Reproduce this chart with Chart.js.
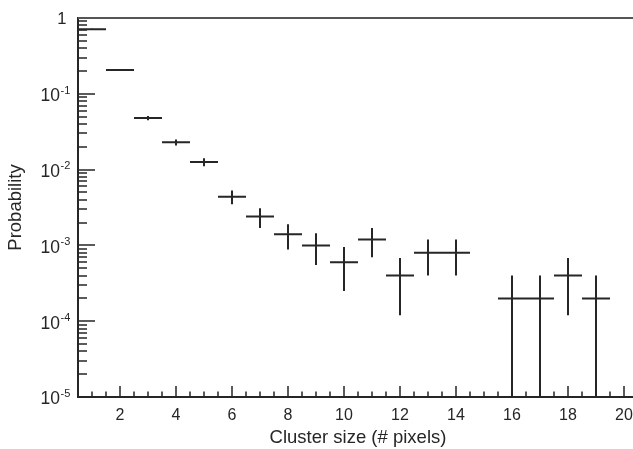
<!DOCTYPE html>
<html>
<head>
<meta charset="utf-8">
<script src="https://cdn.jsdelivr.net/npm/chart.js@4.4.1/dist/chart.umd.min.js"></script>
<style>
  html, body { margin: 0; padding: 0; background: #fff; overflow: hidden; }
  #wrap { width: 640px; height: 449px; }
</style>
</head>
<body>
<div id="wrap"><canvas id="clusterChart"></canvas></div>
<script>
// cluster size histogram (normalised), one bin per pixel count
const binCenters = [1, 2, 3, 4, 5, 6, 7, 8, 9, 10, 11, 12, 13, 14, 15, 16, 17, 18, 19, 20];
const probability = [0.71, 0.206, 0.048, 0.0229, 0.0126, 0.0044, 0.0024, 0.0014, 0.001, 0.0006,
                     0.0012, 0.0004, 0.0008, 0.0008, 0, 0.0002, 0.0002, 0.0004, 0.0002, 0];
const errLow  = [0.698, 0.2, 0.0449, 0.0208, 0.0111, 0.0035, 0.0017, 0.00088, 0.00055, 0.00025,
                 0.0007, 0.00012, 0.0004, 0.0004, 0, 0, 0, 0.00012, 0, 0];
const errHigh = [0.722, 0.212, 0.0511, 0.025, 0.0141, 0.0053, 0.0031, 0.0019, 0.00145, 0.00095,
                 0.0017, 0.00068, 0.0012, 0.0012, 0, 0.0004, 0.0004, 0.00068, 0.0004, 0];
const xTickLabels = [2, 4, 6, 8, 10, 12, 14, 16, 18, 20];
const yDecades = [0, -1, -2, -3, -4, -5];

const X_MIN = 0.5, X_MAX = 20.5;
const Y_MIN = 1e-5, Y_MAX = 1;
const INK = '#262626';
const FONT = "'Liberation Sans', Arial, sans-serif";

// bin contents as horizontal steps, errors as vertical bars (null splits the line)
const binSegments = [];
const errorSegments = [];
binCenters.forEach((x, i) => {
  const v = probability[i];
  if (v <= 0) return;
  binSegments.push({x: x - 0.5, y: v}, {x: x + 0.5, y: v}, {x: x + 0.5, y: null});
  errorSegments.push({x: x, y: Math.max(errLow[i], Y_MIN)}, {x: x, y: errHigh[i]}, {x: x, y: null});
});

// ROOT-like frame: inward ticks, top border, 10^n labels
const rootFrame = {
  id: 'rootFrame',
  afterDraw(chart) {
    const {ctx, chartArea: a, scales: {x, y}} = chart;
    ctx.save();
    ctx.strokeStyle = INK;
    ctx.lineWidth = 1.5;
    ctx.beginPath();
    for (let t = 1; t <= X_MAX; t += 0.5) {
      const px = Math.round(x.getPixelForValue(t));
      const len = t % 2 === 0 ? 11 : 5.5;
      ctx.moveTo(px, a.bottom);
      ctx.lineTo(px, a.bottom - len);
    }
    yDecades.forEach(d => {
      const py = Math.round(y.getPixelForValue(Math.pow(10, d)));
      ctx.moveTo(a.left, py);
      ctx.lineTo(a.left + 17, py);
      if (d === -5) return;
      // minor ticks in the decade below this one
      for (let k = 2; k <= 9; k++) {
        const pm = Math.round(y.getPixelForValue(k * Math.pow(10, d - 1)));
        ctx.moveTo(a.left, pm);
        ctx.lineTo(a.left + 9, pm);
      }
    });
    ctx.stroke();

    ctx.strokeStyle = '#555';
    ctx.lineWidth = 2;
    ctx.beginPath();
    ctx.moveTo(a.left, a.top);
    ctx.lineTo(a.right, a.top);
    ctx.stroke();

    ctx.fillStyle = INK;
    ctx.textBaseline = 'alphabetic';
    yDecades.forEach(d => {
      const py = y.getPixelForValue(Math.pow(10, d));
      if (d === 0) {
        ctx.font = '16.5px ' + FONT;
        ctx.textAlign = 'right';
        ctx.fillText('1', 66.5, py + 6.3);
        return;
      }
      ctx.font = '17.5px ' + FONT;
      ctx.textAlign = 'right';
      ctx.fillText('10', 60, py + 7.4);
      ctx.font = '11px ' + FONT;
      ctx.textAlign = 'left';
      ctx.fillText('-' + (-d), 60.5, py - 0.2);
    });
    ctx.restore();
  }
};

new Chart(document.getElementById('clusterChart'), {
  type: 'scatter',
  data: {
    datasets: [
      {data: binSegments, showLine: true, spanGaps: false, borderColor: INK, borderWidth: 2, pointRadius: 0},
      {data: errorSegments, showLine: true, spanGaps: false, borderColor: INK, borderWidth: 2, pointRadius: 0}
    ]
  },
  options: {
    responsive: true,
    maintainAspectRatio: false,
    animation: false,
    layout: {padding: {left: 0, top: 18, right: 2, bottom: 0}},
    plugins: {legend: {display: false}, tooltip: {enabled: false}},
    scales: {
      x: {
        type: 'linear',
        min: X_MIN,
        max: X_MAX,
        afterBuildTicks: s => { s.ticks = xTickLabels.map(v => ({value: v})); },
        afterFit: s => { s.height = 52; },
        grid: {display: false},
        border: {color: INK, width: 2},
        ticks: {color: INK, font: {family: FONT, size: 16}, padding: 1, maxRotation: 0, autoSkip: false},
        title: {display: true, text: 'Cluster size (# pixels)', color: INK,
                font: {family: FONT, size: 18.5}, padding: {top: 0, bottom: 0}}
      },
      y: {
        type: 'logarithmic',
        min: Y_MIN,
        max: Y_MAX,
        afterFit: s => { s.width = 78; },
        grid: {display: false},
        border: {color: INK, width: 2},
        ticks: {display: false},
        title: {display: true, text: 'Probability', color: INK,
                font: {family: FONT, size: 18.5}, padding: {top: 5, bottom: 0}}
      }
    }
  },
  plugins: [rootFrame]
});
</script>
</body>
</html>
